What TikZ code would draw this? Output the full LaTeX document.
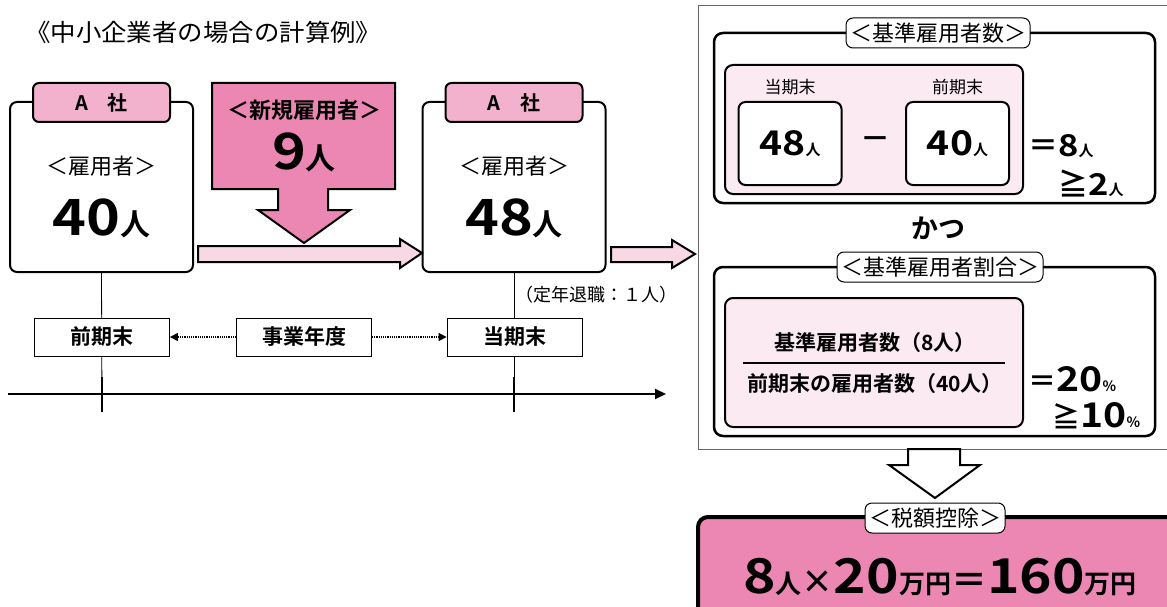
\documentclass[tikz,border=0pt]{standalone}
\usepackage{fontspec}
\setmainfont{Noto Sans CJK JP}[BoldFont={Noto Sans CJK JP Bold}]
\usepackage{xcolor}
\usetikzlibrary{arrows.meta}
\definecolor{hotpink}{HTML}{EC87B4}
\definecolor{tabpink}{HTML}{F2B1CD}
\definecolor{palepink}{HTML}{F9D8E5}
\definecolor{inpink}{HTML}{FCEAF2}
\newcommand{\fsz}[1]{\fontsize{#1}{#1}\selectfont}
\newcommand{\widen}[1]{\scalebox{1.15}[1]{#1}}
\tikzset{
  firmbox/.style={draw,line width=2pt,rounded corners=7pt,fill=white,minimum width=183pt,minimum height=170pt},
  tabbox/.style={draw,line width=2pt,rounded corners=6pt,fill=tabpink,minimum width=137pt,minimum height=39pt,inner sep=0pt},
  termbox/.style={draw,line width=0.8pt,fill=white,minimum width=135pt,minimum height=38pt,inner sep=0pt},
  groupbox/.style={draw,line width=2.5pt,rounded corners=9pt,minimum width=441pt,minimum height=170pt},
  pinkbox/.style={draw,line width=2pt,rounded corners=8pt,fill=inpink,minimum width=298pt,minimum height=129pt},
  valbox/.style={draw,line width=2pt,rounded corners=7pt,fill=white,minimum width=103pt,minimum height=83pt,inner sep=0pt},
  grouplabel/.style={draw,line width=1pt,rounded corners=7pt,fill=white,minimum height=30pt,inner xsep=4pt,inner ysep=0pt},
  dotarrow/.style={densely dotted,line width=1.2pt,-{Triangle[length=8pt,width=8pt]}},
  blockarrow/.style={draw,line width=2pt}
}
\begin{document}
\begin{tikzpicture}[x=1pt,y=-1pt]
\useasboundingbox (0,0) rectangle (1167,607);

\node[anchor=west,inner sep=0pt] (title) at (25,32) {\scalebox{1.06}[1]{\fsz{24}《中小企業者の場合の計算例》}};

\node[firmbox] (firmA) at (101.5,187) {};
\node[tabbox] (tabA) at (101.5,102.5) {\fsz{20}\bfseries A\quad 社};
\node (staffA) at (101.5,166) {\fsz{22}＜雇用者＞};
\node (countA) at (101.5,218) {\fsz{50}\bfseries \widen{40}{\fsz{30}人}};

\node[firmbox] (firmB) at (514,187) {};
\node[tabbox] (tabB) at (514,102.5) {\fsz{20}\bfseries A\quad 社};
\node (staffB) at (514,166) {\fsz{22}＜雇用者＞};
\node (countB) at (514,218) {\fsz{50}\bfseries \widen{48}{\fsz{30}人}};

\draw[blockarrow,fill=palepink] (198,246) -- (400,246) -- (400,239) -- (422,253) -- (400,268) -- (400,262) -- (198,262) -- cycle;
\draw[blockarrow,fill=hotpink] (212,83) -- (395,83) -- (395,189) -- (328,189) -- (328,210) -- (350,210) -- (304,243) -- (258,210) -- (278,210) -- (278,189) -- (212,189) -- cycle;
\node (newlbl) at (304,110) {\fsz{22}\bfseries ＜新規雇用者＞};
\node (newcount) at (304,152) {\fsz{50}\bfseries \widen{9}{\fsz{30}人}};
\draw[blockarrow,fill=palepink] (611,247) -- (672,247) -- (672,240) -- (695,254) -- (672,268) -- (672,262) -- (611,262) -- cycle;

\node[anchor=west] (retire) at (512,295) {\fsz{18}（定年退職：１人）};

\coordinate (tickA) at (102,412);
\coordinate (tickB) at (514,412);
\coordinate (axisL) at (8,394);
\coordinate (axisR) at (666,394);
\draw[line width=0.8pt] (firmA.south) -- (tickA);
\draw[line width=0.8pt] (firmB.south) -- (tickB);
\draw[line width=2pt] (102,377) -- (tickA);
\draw[line width=2pt] (514,377) -- (tickB);
\draw[line width=2pt,-{Triangle[length=11pt,width=10pt]}] (axisL) -- (axisR);

\node[termbox] (prevend) at (102,337) {\fsz{21}\bfseries 前期末};
\node[termbox] (fiscal) at (304,337) {\fsz{21}\bfseries 事業年度};
\node[termbox] (curend) at (514.5,337) {\fsz{21}\bfseries 当期末};
\draw[dotarrow] (fiscal) -- (prevend);
\draw[dotarrow] (fiscal) -- (curend);

\draw[line width=1pt,black!60] (1168,6) -- (698,6) -- (698,449) -- (1168,449);

\node[groupbox] (numgrp) at (934.5,118) {};
\node[grouplabel] (numlbl) at (938,33) {\fsz{22}＜基準雇用者数＞};
\node[pinkbox] (numpink) at (874,129.5) {};
\node (curhead) at (790,87) {\fsz{17}当期末};
\node (prevhead) at (957.5,87) {\fsz{17}前期末};
\node[valbox] (cur48) at (790,143.5) {\fsz{34}\bfseries \widen{48}{\fsz{15}人}};
\node[valbox] (prev40) at (957.5,143.5) {\fsz{34}\bfseries \widen{40}{\fsz{15}人}};
\node (minus) at (875,143) {\fsz{30}\bfseries －};
\node[anchor=west,inner sep=0pt] (diff) at (1028,146) {\fsz{30}\bfseries ＝\widen{8}{\fsz{15}人}};
\node[anchor=west,inner sep=0pt] (atleast) at (1058,183) {\fsz{30}\bfseries ≧\widen{2}{\fsz{15}人}};

\node (katsu) at (938,228) {\fsz{27}\bfseries かつ};

\node[groupbox,minimum height=169pt] (ratgrp) at (934.5,351.5) {};
\node[grouplabel] (ratlbl) at (940,267) {\fsz{22}＜基準雇用者割合＞};
\node[pinkbox] (ratpink) at (874,362.5) {};
\node (numer) at (875,343) {\fsz{21}\bfseries 基準雇用者数（8人）};
\draw[line width=1.5pt] (743,363) -- (1005,363);
\node (denom) at (875,384) {\fsz{21}\bfseries 前期末の雇用者数（40人）};
\node[anchor=west,inner sep=0pt] (pct) at (1028,379) {\bfseries\fsz{28}＝\fsz{34}\widen{20}\fsz{14}％};
\node[anchor=west,inner sep=0pt] (pctmin) at (1052,416) {\bfseries\fsz{28}≧\fsz{34}\widen{10}\fsz{14}％};

\draw[blockarrow,fill=white] (908,449) -- (908,465) -- (889,465) -- (935,498) -- (980,465) -- (960,465) -- (960,449) -- cycle;

\node[draw,line width=4pt,rounded corners=10pt,fill=hotpink,minimum width=482pt,minimum height=103pt] (taxbox) at (939,568.5) {};
\node[grouplabel] (taxlbl) at (935,518) {\fsz{22}＜税額控除＞};
\node (taxcalc) at (940,577) {\bfseries\fsz{48}\widen{8}{\fsz{26}人}{\fsz{32}×}\widen{20}{\fsz{26}万円}{\fsz{36}＝}\widen{160}{\fsz{26}万円}};
\end{tikzpicture}
\end{document}
